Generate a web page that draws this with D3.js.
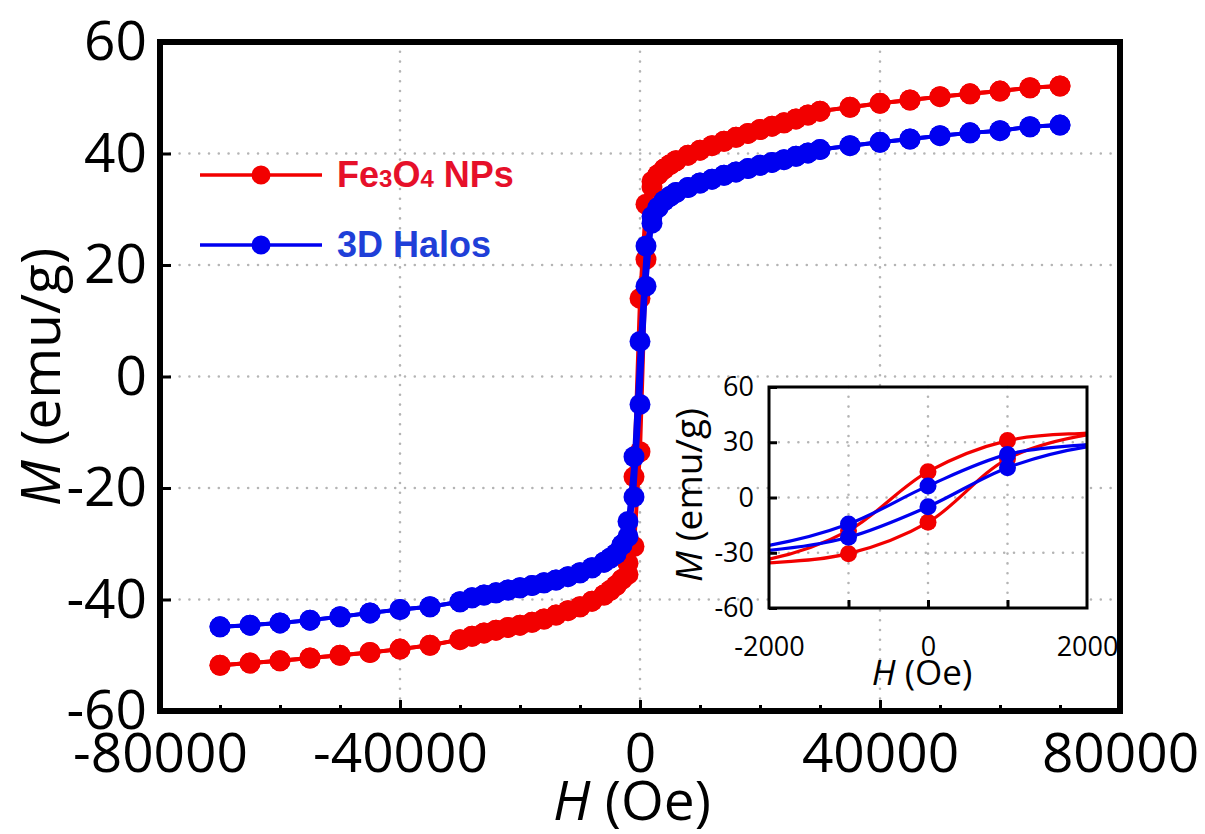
<!DOCTYPE html>
<html>
<head>
<meta charset="utf-8">
<script src="https://cdn.jsdelivr.net/npm/d3@7"></script>
<style>
  body { margin: 0; background: #fff; }
  text { font-family: "Open Sans", "Noto Sans", sans-serif; }
</style>
</head>
<body>
<div id="chart"></div>
<script>
// field values of the descending sweep (Oe)
var fieldDesc = [70000, 65000, 60000, 55000, 50000, 45000, 40000, 35000, 30000,
  28000, 26000, 24000, 22000, 20000, 18000, 16000, 14000, 12000, 10000, 8000, 6000, 5000, 4000, 3000,
  2000, 1000, 0, -1000, -2000,
  -3000, -4000, -5000, -6000, -8000, -10000, -12000, -14000, -16000, -18000, -20000, -22000, -24000, -26000, -28000,
  -30000, -35000, -40000, -45000, -50000, -55000, -60000, -65000, -70000];

// magnetisation on the descending sweep (emu/g)
var feDesc = [52.1, 51.8, 51.2, 50.7, 50.2, 49.6, 49.0, 48.3, 47.6,
  46.9, 46.2, 45.5, 44.9, 44.3, 43.6, 42.9, 42.2, 41.4, 40.6, 39.7, 38.7, 38.0, 37.2, 36.2,
  35.0, 30.9, 14.0, -18.0, -33.5,
  -36.4, -37.5, -38.4, -39.2, -40.3, -41.3, -42.0, -42.8, -43.5, -44.1, -44.6, -45.0, -45.5, -46.0, -46.6,
  -47.2, -48.2, -48.9, -49.5, -50.0, -50.5, -51.0, -51.4, -51.8];

var haloDesc = [45.1, 44.8, 44.1, 43.7, 43.2, 42.6, 42.0, 41.4, 40.7,
  40.1, 39.5, 38.9, 38.4, 37.9, 37.3, 36.7, 36.1, 35.4, 34.7, 33.9, 33.0, 32.3, 31.5, 30.3,
  28.7, 23.4, 6.3, -14.4, -26.0,
  -30.2, -31.8, -32.6, -33.3, -34.3, -35.2, -35.9, -36.5, -37.0, -37.5, -37.9, -38.3, -38.8, -39.2, -39.7,
  -40.4, -41.3, -41.8, -42.4, -43.1, -43.7, -44.2, -44.6, -44.9];

// ascending sweep differs only inside the loop
var loopField = [-2000, -1000, 0, 1000, 2000];
var feAscLoop = [-35.5, -30.5, -13.5, 21.0, 34.0];
var haloAscLoop = [-28.7, -21.6, -5.0, 16.2, 27.5];

var seriesNames = ["Fe3O4 NPs", "3D Halos"];
var seriesColors = ["#f20000", "#0000f0"];
var labelColors = ["#e6102a", "#1f3fd8"];

var xTicks = [-80000, -40000, 0, 40000, 80000];
var xMinor = [-70000, -60000, -50000, -30000, -20000, -10000, 10000, 20000, 30000, 50000, 60000, 70000];
var yTicks = [-60, -40, -20, 0, 20, 40, 60];
var xGrid = [-40000, 0, 40000];
var yGrid = [-40, -20, 0, 20, 40];

var inXTicks = [-2000, 0, 2000];
var inXGrid = [-1000, 0, 1000];
var inYTicks = [-60, -30, 0, 30, 60];
var inYGrid = [-30, 0, 30];

var width = 1205, height = 834;
var plain = function(d) { return String(d); };  // hyphen minus, like the original

var makeLoop = function(desc, ascLoop) {
  var down = fieldDesc.map(function(h, i) { return {h: h, m: desc[i]}; });
  var neg = down.filter(function(d) { return d.h < -2000; }).reverse();
  var mid = loopField.map(function(h, i) { return {h: h, m: ascLoop[i]}; });
  var pos = down.filter(function(d) { return d.h > 2000; }).reverse();
  return {down: down, up: neg.concat(mid, pos)};
};

var loops = [makeLoop(feDesc, feAscLoop), makeLoop(haloDesc, haloAscLoop)];

var svg = d3.select("#chart").append("svg")
  .attr("width", width)
  .attr("height", height);

svg.append("rect").attr("width", width).attr("height", height).attr("fill", "#fff");

// main plot
var x = d3.scaleLinear().domain([-80000, 80000]).range([160, 1120]);
var y = d3.scaleLinear().domain([-60, 60]).range([711, 42]);

var dotted = function(sel) {
  sel.attr("stroke", "#b4b4b4")
    .attr("stroke-width", 2.6)
    .attr("stroke-linecap", "round")
    .attr("stroke-dasharray", "0,9.8");
};

svg.append("g").selectAll("line").data(xGrid).enter().append("line")
  .attr("x1", function(d) { return x(d); }).attr("x2", function(d) { return x(d); })
  .attr("y1", y(60)).attr("y2", y(-60))
  .call(dotted);
svg.append("g").selectAll("line").data(yGrid).enter().append("line")
  .attr("x1", x(-80000)).attr("x2", x(80000))
  .attr("y1", function(d) { return y(d); }).attr("y2", function(d) { return y(d); })
  .call(dotted);

var line = d3.line().x(function(d) { return x(d.h); }).y(function(d) { return y(d.m); });

loops.forEach(function(lp, k) {
  var g = svg.append("g");
  [lp.down, lp.up].forEach(function(br) {
    g.append("path").attr("d", line(br))
      .attr("fill", "none").attr("stroke", seriesColors[k]).attr("stroke-width", 4)
      .attr("stroke-linejoin", "round");
  });
  g.selectAll("circle").data(lp.down.concat(lp.up)).enter().append("circle")
    .attr("cx", function(d) { return x(d.h); })
    .attr("cy", function(d) { return y(d.m); })
    .attr("r", 10.5)
    .attr("fill", seriesColors[k]);
});

// axes
var styleAxis = function(g) {
  g.select(".domain").remove();
  g.selectAll(".tick line").attr("stroke", "#000").attr("stroke-width", 3);
};

svg.append("g").attr("transform", "translate(0," + y(-60) + ")")
  .call(d3.axisBottom(x).tickValues(xMinor).tickSize(-6).tickFormat(""))
  .call(styleAxis);
svg.append("g").attr("transform", "translate(0," + y(-60) + ")")
  .call(d3.axisBottom(x).tickValues(xTicks).tickSize(-11).tickPadding(22).tickFormat(plain))
  .call(styleAxis)
  .selectAll("text").attr("font-size", 55).attr("fill", "#000")
  .style("font-family", "'Open Sans', sans-serif");
svg.append("g").attr("transform", "translate(" + x(-80000) + ",0)")
  .call(d3.axisLeft(y).tickValues(yTicks).tickSize(-11).tickPadding(13).tickFormat(plain))
  .call(styleAxis)
  .selectAll("text").attr("font-size", 55).attr("fill", "#000")
  .style("font-family", "'Open Sans', sans-serif");

svg.append("rect")
  .attr("x", x(-80000)).attr("y", y(60))
  .attr("width", x(80000) - x(-80000)).attr("height", y(-60) - y(60))
  .attr("fill", "none").attr("stroke", "#000").attr("stroke-width", 6);

var xt = svg.append("text").attr("x", 632).attr("y", 820)
  .attr("text-anchor", "middle").attr("font-size", 55);
xt.append("tspan").attr("font-style", "italic").text("H");
xt.append("tspan").text(" (Oe)");

var yt = svg.append("text").attr("transform", "translate(60,377) rotate(-90)")
  .attr("text-anchor", "middle").attr("font-size", 55);
yt.append("tspan").attr("font-style", "italic").text("M");
yt.append("tspan").text(" (emu/g)");

// legend
var legY = [175, 245];
loops.forEach(function(lp, k) {
  var g = svg.append("g").attr("transform", "translate(0," + legY[k] + ")");
  g.append("line").attr("x1", 200).attr("x2", 322)
    .attr("stroke", seriesColors[k]).attr("stroke-width", 3.5);
  g.append("circle").attr("cx", 261).attr("r", 9.5).attr("fill", seriesColors[k]);
  var t = g.append("text").attr("x", 337).attr("y", 12)
    .attr("font-size", 36).attr("font-weight", "bold").attr("fill", labelColors[k])
    .style("font-family", "'Liberation Sans', Arial, sans-serif");
  if (k == 0) {
    t.append("tspan").text("Fe");
    t.append("tspan").attr("font-size", 24).text("3");
    t.append("tspan").text("O");
    t.append("tspan").attr("font-size", 24).text("4");
    t.append("tspan").text(" NPs");
  } else {
    t.text(seriesNames[k]);
  }
});

// inset
var ix = d3.scaleLinear().domain([-2000, 2000]).range([769, 1087]);
var iy = d3.scaleLinear().domain([-60, 60]).range([608, 387]);

svg.append("rect").attr("x", ix(-2000)).attr("y", iy(60))
  .attr("width", ix(2000) - ix(-2000)).attr("height", iy(-60) - iy(60))
  .attr("fill", "#fff");

svg.append("clipPath").attr("id", "inclip").append("rect")
  .attr("x", ix(-2000)).attr("y", iy(60))
  .attr("width", ix(2000) - ix(-2000)).attr("height", iy(-60) - iy(60));

svg.append("g").selectAll("line").data(inXGrid).enter().append("line")
  .attr("x1", function(d) { return ix(d); }).attr("x2", function(d) { return ix(d); })
  .attr("y1", iy(60)).attr("y2", iy(-60))
  .call(dotted);
svg.append("g").selectAll("line").data(inYGrid).enter().append("line")
  .attr("x1", ix(-2000)).attr("x2", ix(2000))
  .attr("y1", function(d) { return iy(d); }).attr("y2", function(d) { return iy(d); })
  .call(dotted);

var iline = d3.line().curve(d3.curveCatmullRom.alpha(0.5))
  .x(function(d) { return ix(d.h); }).y(function(d) { return iy(d.m); });
var near = function(d) { return Math.abs(d.h) <= 4000; };

loops.forEach(function(lp, k) {
  var g = svg.append("g").attr("clip-path", "url(#inclip)");
  [lp.down, lp.up].forEach(function(br) {
    g.append("path").attr("d", iline(br.filter(near)))
      .attr("fill", "none").attr("stroke", seriesColors[k]).attr("stroke-width", 3.2);
  });
  g.selectAll("circle")
    .data(lp.down.concat(lp.up).filter(function(d) { return Math.abs(d.h) < 2000; }))
    .enter().append("circle")
    .attr("cx", function(d) { return ix(d.h); })
    .attr("cy", function(d) { return iy(d.m); })
    .attr("r", 8.5)
    .attr("fill", seriesColors[k]);
});

svg.append("g").attr("transform", "translate(0," + iy(-60) + ")")
  .call(d3.axisBottom(ix).tickValues(inXGrid).tickSize(-8).tickFormat(""))
  .call(styleAxis);
svg.append("g").attr("transform", "translate(0," + iy(-60) + ")")
  .call(d3.axisBottom(ix).tickValues(inXTicks).tickSize(0).tickPadding(29).tickFormat(plain))
  .call(styleAxis)
  .selectAll("text").attr("font-size", 27).attr("fill", "#000")
  .style("font-family", "'Open Sans', sans-serif");
svg.append("g").attr("transform", "translate(" + ix(-2000) + ",0)")
  .call(d3.axisLeft(iy).tickValues(inYTicks).tickSize(-8).tickPadding(15).tickFormat(plain))
  .call(styleAxis)
  .selectAll("text").attr("font-size", 27).attr("fill", "#000")
  .style("font-family", "'Open Sans', sans-serif");

svg.append("rect").attr("x", ix(-2000)).attr("y", iy(60))
  .attr("width", ix(2000) - ix(-2000)).attr("height", iy(-60) - iy(60))
  .attr("fill", "none").attr("stroke", "#000").attr("stroke-width", 3);

var ixt = svg.append("text").attr("x", 922).attr("y", 685)
  .attr("text-anchor", "middle").attr("font-size", 35);
ixt.append("tspan").attr("font-style", "italic").text("H");
ixt.append("tspan").text(" (Oe)");

var iyt = svg.append("text").attr("transform", "translate(702,495) rotate(-90)")
  .attr("text-anchor", "middle").attr("font-size", 37);
iyt.append("tspan").attr("font-style", "italic").text("M");
iyt.append("tspan").text(" (emu/g)");
</script>
</body>
</html>
